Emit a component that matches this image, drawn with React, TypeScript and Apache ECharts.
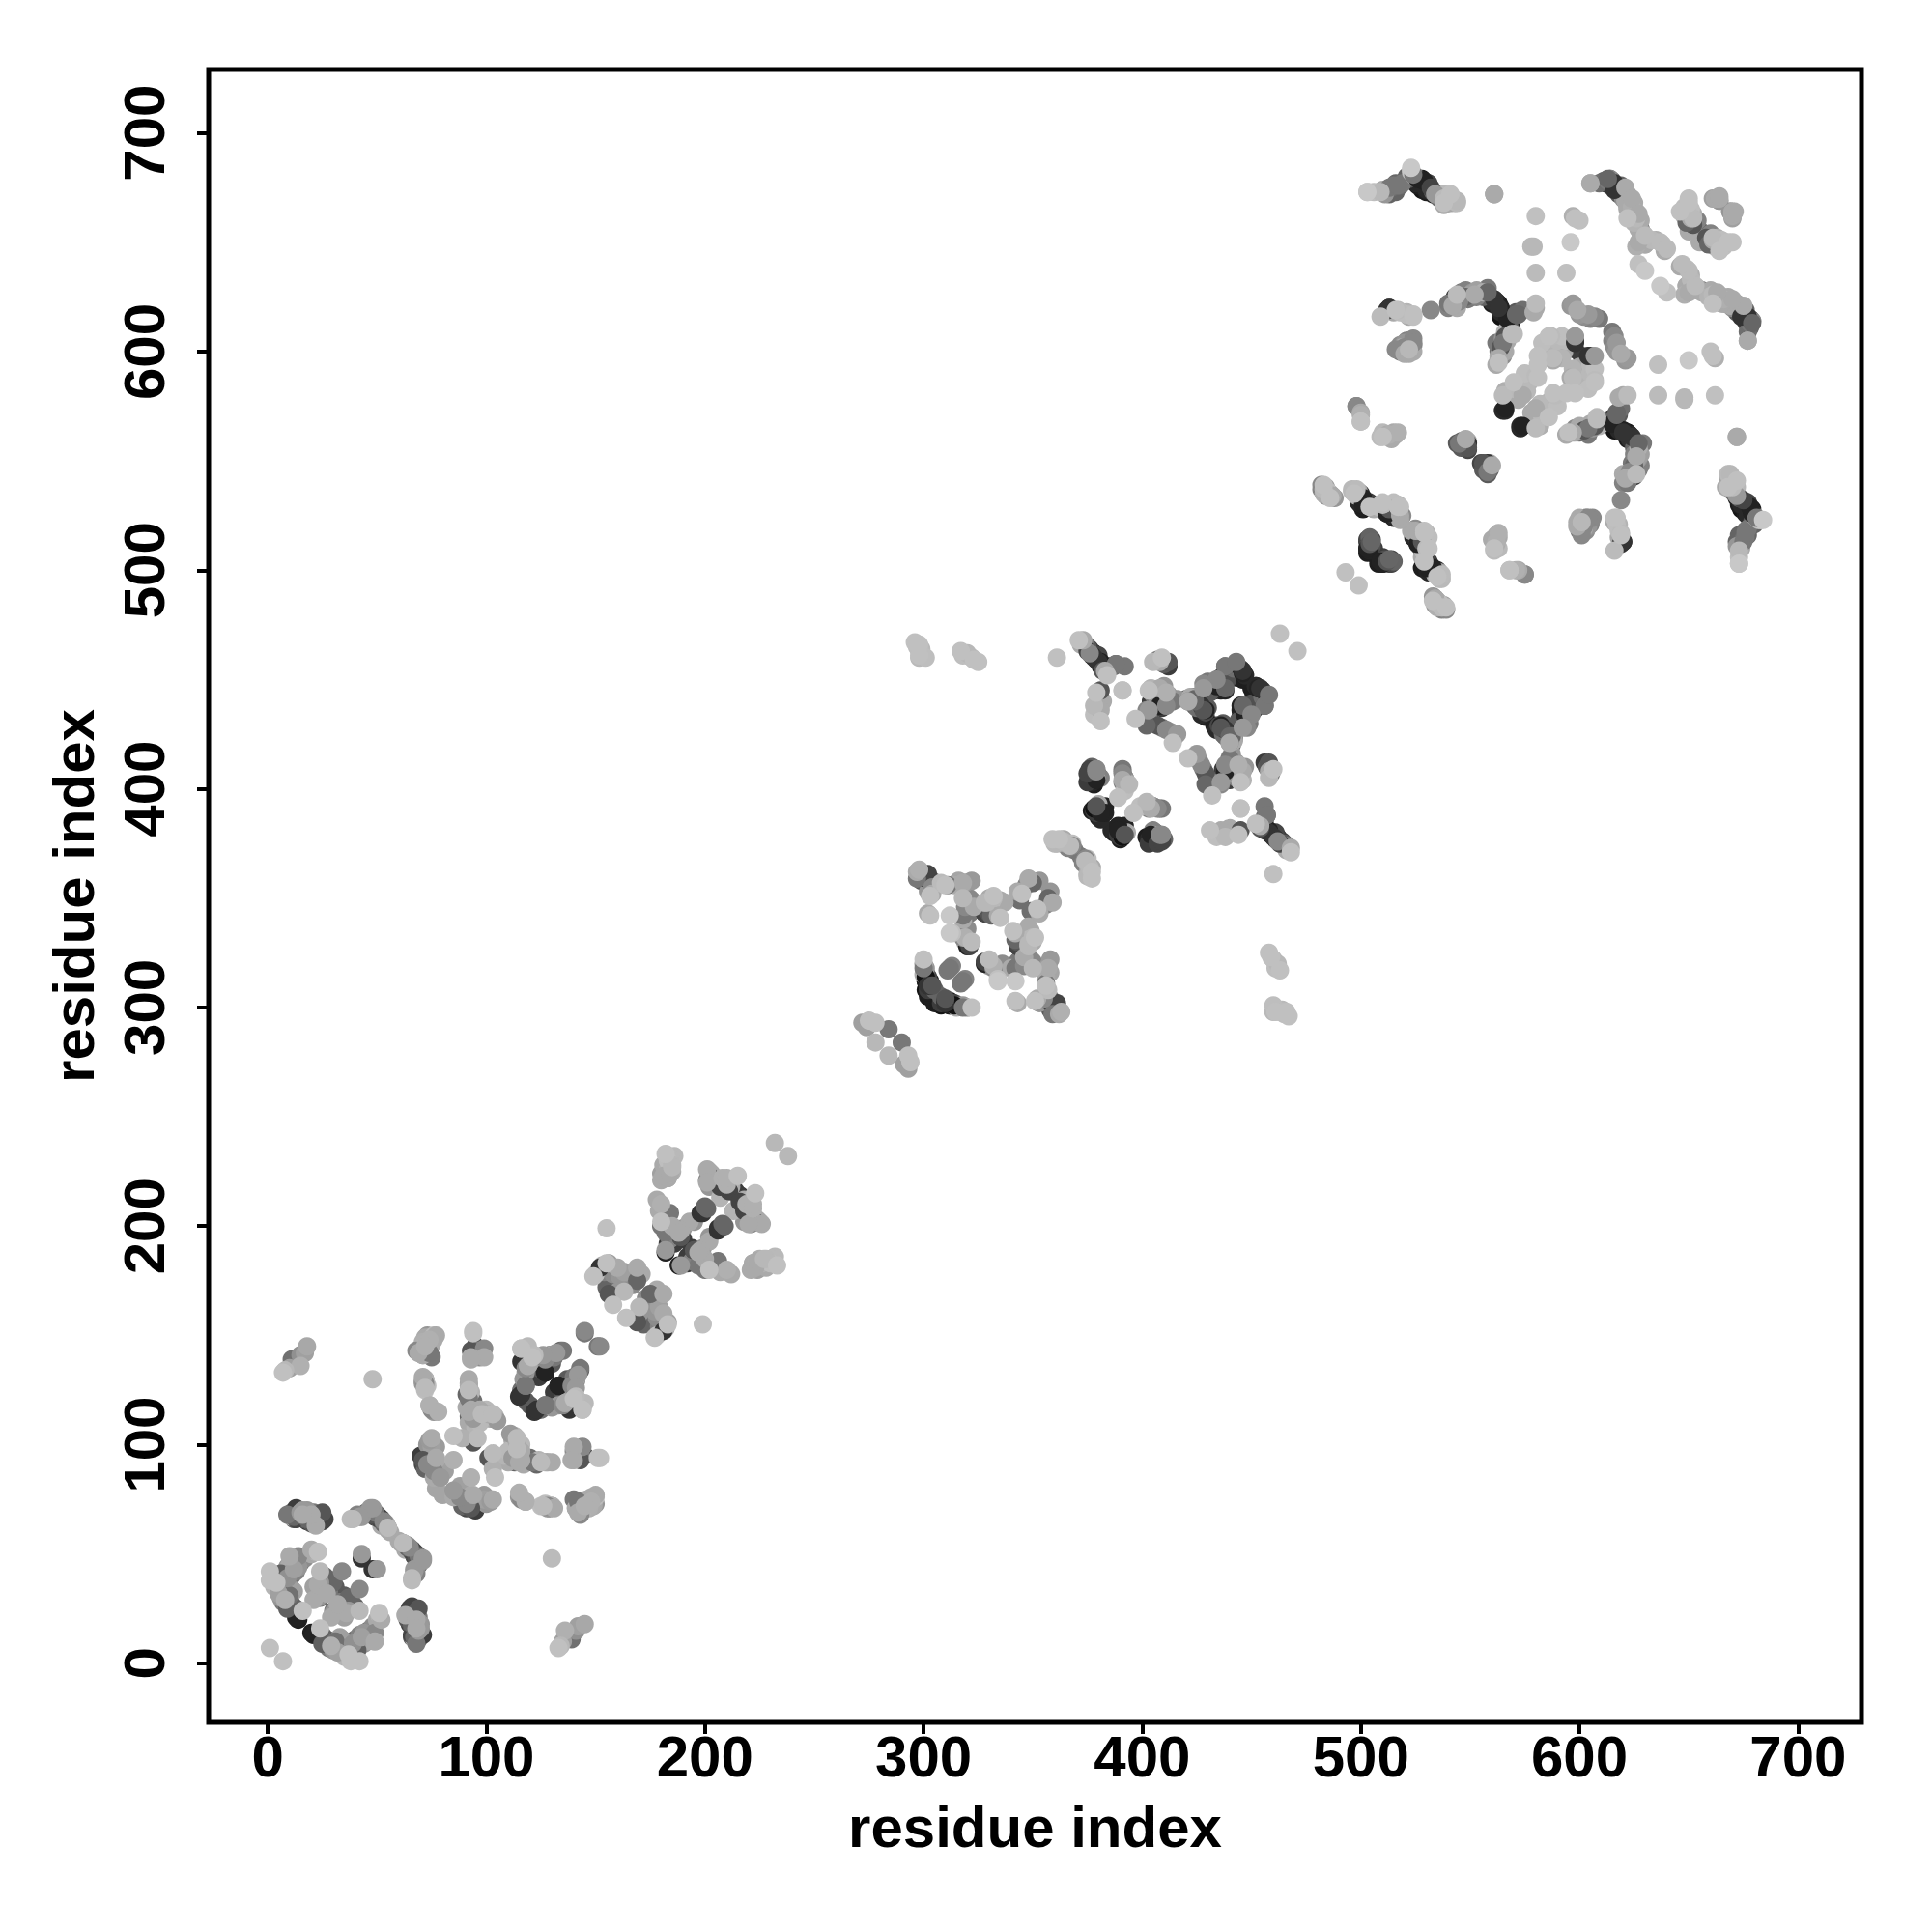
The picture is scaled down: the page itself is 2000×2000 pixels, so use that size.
import React, { useEffect, useRef } from "react";
import * as echarts from "echarts";

// Each entry: [residue i, residue j, grey level]. A contact map plots both (i,j) and (j,i).
// "under" arrays hold the dots mostly hidden beneath the ones that can be seen whole ("top" arrays).
const topA = [
  [1,7,192],[1,42,192],[1,38,192],[4,37,192],[6,41,96],[8,29,176],[9,39,144],[9,25,96],[5,32,160],[12,43,160],[10,31,112],
  [14,20,32],[16,24,192],[21,29,170],[23,36,170],[24,42,185],[26,38,85],[27,34,50],[29,38,102],[10,49,170],[14,49,136],[20,52,170],[23,51,192],
  [34,42,136],[37,30,102],[27,32,170],[24,37,153],[43,48,51],[43,50,153],[13,21,34],
  [9,68,119],[13,66,68],[15,69,153],[19,69,153],[20,64,85],[22,63,170],[26,66,68],
  [39,66,187],[43,67,153],[48,71,153],[48,68,85],[51,66,68],[53,65,136],[55,62,187],
  [61,55,170],[64,53,102],[67,51,68],[69,49,119],[71,47,153],[67,42,153],[66,38,187],
  [69,25,85],[67,22,51],[66,18,102],[68,20,170],[70,16,153],[71,13,60],[67,12,102],[68,16,170],
  [7,133,192],[8,134,184],[10,135,160],[11,139,112],[14,138,68],[15,136,176],[17,142,160],[18,145,168],[15,141,144],[48,130,187],
];
const underA = [
  [11,67,170],[12,66,90],[14,68,120],[16,67,140],[17,66,100],[18,65,60],[21,66,70],[23,65,85],[24,66,80],[25,65,70],
  [41,68,130],[45,69,100],[46,69,130],[49,69,80],[49,67,70],[50,68,90],[52,66,80],[54,64,150],[52,63,170],
  [60,56,170],[62,55,130],[63,54,90],[65,52,80],[66,52,60],[67,50,90],[68,50,100],[70,48,150],[69,46,150],[68,44,140],
  [67,24,85],[67,21,60],[69,21,120],[68,18,130],[70,18,150],[69,14,90],[68,13,70],[69,11,110],
  [10,45,170],[14,44,150],[7,38,120],[8,35,130],[11,34,150],[12,33,160],[11,27,90],[13,25,100],[24,30,110],[25,39,130],[26,40,100],[30,38,120],[31,35,90],[28,36,70],[5,35,160],[3,40,180],
  [36,26,170],[33,28,120],[30,23,150],[37,25,150],[35,21,160],[44,9,150],[45,11,130],[46,15,110],[47,14,120],[48,17,140],[50,20,170],[51,22,180],
  [2,40,190],[4,38,185],[3,35,180],[5,33,170],[6,30,150],[7,28,120],[8,33,110],[10,35,100],[11,40,110],[13,42,130],
];
const topB = [
  [69,142,170],[68,143,136],[74,142,119],[74,148,176],[77,150,170],[72,145,176],
  [94,151,192],[93,143,85],[93,140,170],[99,144,136],[99,140,170],
  [71,131,170],[72,126,187],[72,128,136],[92,130,170],[92,125,187],[91,123,102],
  [74,118,176],[75,116,136],[78,115,176],[93,116,170],[94,112,153],[98,114,187],[101,114,170],[105,111,153],[97,116,170],[103,114,187],
  [116,144,192],[119,136,170],[121,140,192],[127,139,136],[127,133,34],[118,127,119],[115,122,51],[123,116,51],[127,118,102],[133,127,34],
  [132,142,153],[135,143,119],[140,131,119],[143,134,102],[141,126,153],[144,116,187],[141,122,187],[135,118,136],[138,116,51],[145,151,119],[152,145,136],
  [75,103,170],[85,104,192],[89,103,176],[96,103,187],[94,101,85],[77,94,170],[71,93,85],[73,91,136],[85,93,176],[79,85,153],
  [92,115,170],[92,121,119],[93,139,170],[94,152,192],[74,102,153],[75,92,102],[76,88,136],[72,92,85],
];
const underB = [
  [74,143,102],[69,143,192],[76,150,187],[72,149,170],[71,146,176],
  [70,144,180],[71,147,175],[72,143,120],[75,146,170],[76,148,170],[71,141,150],[73,150,150],
  [95,145,70],[96,143,120],[94,140,130],[97,140,140],[98,142,150],
  [71,129,140],[72,130,140],[73,127,190],[92,128,150],[93,124,180],[92,122,120],[94,120,110],
  [91,117,170],[93,114,150],[95,113,170],[96,115,185],[99,112,175],[102,112,165],[104,113,180],[100,116,185],
  [72,89,100],[71,91,70],[70,95,60],[74,95,130],[73,100,150],[75,99,160],[76,85,170],[77,80,165],[81,88,160],[87,78,120],[88,77,100],[90,75,90],[91,76,110],[93,77,170],[97,75,150],[99,77,155],[102,75,160],
  [118,92,120],[110,92,170],[112,93,120],[113,92,100],[116,92,150],[119,92,160],[123,92,180],[127,92,170],[110,97,185],[108,95,180],[113,96,180],
  [118,74,170],[115,76,150],[125,72,190],[128,71,150],[130,72,180],[140,75,120],[145,73,160],[147,72,170],[149,74,170],[143,70,120],[141,71,170],
  [119,145,185],[122,138,160],[124,135,80],[125,135,50],[117,130,150],[116,124,100],[120,118,90],[125,116,110],[131,124,60],[133,125,40],[137,130,90],[139,125,130],[140,120,170],[137,118,100],[133,118,150],[130,141,170],[129,141,100],[118,141,160],
];
const topC = [
  [232,238,184],[155,199,192],[182,233,192],[181,223,170],[185,228,184],[184,224,170],
  [201,226,170],[201,220,170],[207,218,68],[210,219,176],[211,216,68],[215,223,192],[208,222,176],
  [210,218,68],[210,222,176],[206,220,51],[201,221,136],[202,223,68],
  [178,212,170],[180,210,176],[184,206,119],[201,208,102],[198,206,51],
  [180,200,119],[185,200,170],[189,198,170],[189,195,68],[200,209,102],[199,206,51],
  [182,189,153],[182,188,34],[195,189,85],[188,197,170],[182,197,119],[180,202,192],
  [185,227,184],
  [149,177,192],[155,183,192],[152,181,51],[160,181,170],[169,181,170],[169,175,102],[156,169,85],[163,170,184],[158,164,192],
];
const underC = [
  [183,230,190],[182,226,170],[183,222,160],[185,225,175],[186,232,185],[180,224,160],
  [203,224,170],[202,218,150],[205,220,70],[209,216,70],[212,221,180],[214,216,60],
  [213,207,180],[216,212,70],[218,212,170],[219,209,50],[221,204,60],[225,202,170],[221,203,140],
  [179,207,170],[181,204,140],[182,202,120],[183,198,150],[186,198,170],[184,194,130],[186,192,60],[183,192,60],[190,194,60],[190,199,150],[193,202,170],[195,202,150],
  [224,184,180],[226,183,180],[230,185,185],[228,181,170],[222,183,170],[221,180,170],
  [150,178,190],[152,178,90],[153,182,170],[154,179,130],[156,183,160],[158,178,140],[161,177,150],[163,179,160],[155,172,100],[157,171,90],[158,168,170],[160,170,150],[167,173,140],[171,178,170],
];
const topD = [
  [272,293,160],[275,294,192],[278,293,192],[278,284,184],[284,290,120],[274,291,160],
  [297,362,170],[297,359,119],[299,361,51],[302,361,68],[304,355,136],[303,351,192],[308,357,187],[311,356,119],[318,357,170],[322,358,153],
  [319,346,136],[322,349,136],[318,342,119],[323,346,170],[328,348,184],[332,351,192],[328,343,68],[335,341,192],[330,343,85],
  [303,342,192],[312,342,200],[312,334,200],[318,332,136],[322,330,187],[320,328,34],
  [300,322,192],[300,318,119],[302,310,51],[304,310,85],[312,318,119],[303,310,34],[301,314,17],
  [321,328,68],[319,332,176],[313,334,192],[334,342,170],[331,342,102],[332,350,184],[329,348,184],[321,350,136],[320,344,119],[318,350,184],[319,357,153],
  [310,356,192],[302,343,170],[304,352,170],[304,356,68],[301,359,51],[298,363,176],
  [343,353,170],[350,357,102],[348,359,170],[345,352,192],
  [296,467,192],[298,466,192],[298,461,192],[317,463,192],[320,462,184],[323,459,192],[325,458,192],
];
const underD = [
  [300,360,60],[300,361,80],[301,357,50],[302,358,60],[303,356,70],[299,358,90],[302,353,150],[304,358,120],[306,356,140],[314,356,170],[316,358,165],[320,357,155],[320,347,140],[321,343,120],[322,344,100],[325,346,90],[329,345,70],[327,344,50],
  [318,340,170],[320,336,140],[319,330,160],[321,329,60],
  [300,320,170],[301,316,100],[302,314,70],[301,312,30],[303,312,30],[302,308,60],[303,308,30],[305,308,100],[306,303,30],[305,302,30],[307,302,30],[308,301,20],[310,302,20],[312,301,20],[315,300,170],[318,301,150],[320,300,170],[311,317,120],[313,319,130],
  [331,348,185],[335,349,170],[330,350,170],[337,348,170],[344,349,110],[347,356,130],[349,358,170],[353,358,150],
  [297,465,190],[299,464,185],[301,460,190],[318,461,190],[322,460,185],[298,463,190],[298,460,185],
];
const topE = [
  [361,460,192],[463,471,192],[373,468,170],[371,468,192],[375,463,68],[377,461,34],[380,458,51],[383,454,170],[388,457,102],[392,456,119],
  [381,445,85],[391,445,192],[379,444,192],[381,436,170],[378,438,184],[381,431,192],
  [403,445,192],[408,458,170],[412,458,85],[405,458,184],[409,460,192],[408,446,170],[411,444,176],[408,438,34],[414,440,119],[411,438,136],
  [402,436,136],[397,432,192],[402,429,102],[407,429,85],[411,427,136],[416,425,153],[414,421,192],
  [421,440,136],[428,446,153],[428,436,85],[427,438,51],[424,440,102],[438,446,102],[434,449,34],[434,447,34],[438,456,119],[446,454,51],[443,457,34],
  [453,446,34],[458,443,119],[456,438,85],[445,438,34],[450,434,136],[448,428,136],[441,424,102],[436,429,34],[440,421,170],
  [379,408,136],[375,407,68],[379,404,34],[391,407,136],[394,402,184],[389,396,192],[391,408,119],[391,404,170],
  [383,389,34],[378,391,17],[381,389,34],[379,392,85],[379,409,136],[376,409,68],
  [368,374,136],[362,377,192],[364,376,187],[359,377,192],[367,374,187],[360,375,184],[445,391,192],[388,457,119],[384,452,192],[382,454,85],[381,458,34],[378,460,51],[376,462,136],[403,436,153],
];
const underE = [
  [374,466,120],[375,465,90],[376,464,60],[378,462,30],[379,459,40],[380,461,70],[381,456,30],[381,457,60],[382,455,50],[385,456,80],[387,456,110],[372,466,170],
  [380,441,150],[382,440,170],[378,434,190],
  [376,405,60],[377,406,30],[378,407,30],[377,403,40],[378,402,30],[380,406,100],[381,405,130],[375,403,60],[380,391,20],[382,390,25],[383,392,35],[377,390,30],[386,381,40],[387,380,30],[389,379,60],[390,378,60],[380,388,30],[388,380,30],[391,378,90],[393,380,170],
  [405,378,60],[405,379,170],[406,380,100],[407,377,70],[409,379,130],[410,377,100],
  [392,405,140],[393,403,175],[392,400,170],[403,391,130],[405,392,130],[409,391,120],[399,392,190],
  [405,440,50],[407,441,150],[409,437,60],[404,440,60],[405,443,130],[409,444,170],[412,443,150],[416,441,150],[420,441,100],[423,442,120],[425,439,60],[429,435,70],[430,437,90],[431,444,90],
  [403,432,120],[405,430,80],[409,428,120],[413,426,150],[415,424,160],
  [433,445,40],[435,450,30],[436,451,50],[436,446,30],[437,448,60],[439,450,80],[440,455,40],[441,456,30],[443,453,30],[445,455,60],[447,452,40],[450,446,30],[451,443,30],[452,447,40],[454,445,90],[455,442,110],[445,436,30],[446,434,50],[448,436,70],[449,430,120],[433,429,30],[434,427,40],[437,425,110],[438,424,90],[440,424,150],[442,422,170],
  [407,459,120],[410,457,90],[412,456,60],[404,446,180],[408,441,130],[410,447,150],
  [360,376,190],[363,376,185],[365,375,170],[366,373,130],[369,372,120],[376,363,160],[375,361,175],[377,364,170],[375,368,190],
];
const topF = [
  [503,673,200],[509,673,184],[513,675,119],[517,676,119],[523,684,200],[524,681,119],[526,679,34],[529,678,34],[532,675,68],[534,672,153],[538,670,187],[541,672,192],[544,669,184],[538,668,192],[561,672,170],
  [513,620,51],[517,619,187],[524,617,192],[532,619,136],[540,622,119],[541,622,51],[545,623,136],[548,625,102],[552,626,170],[558,627,102],[561,624,51],[563,620,51],[567,615,34],[572,617,102],[580,622,187],[580,620,170],
  [520,602,136],[524,606,136],[516,601,136],[570,608,187],[566,607,85],[564,602,85],[563,597,170],[563,595,192],
  [580,662,192],[579,648,184],[580,636,187],[598,661,192],[596,650,200],[594,636,192],[597,622,153],[599,619,170],[607,616,136],[604,617,153],
  [605,677,170],[613,679,102],[616,677,51],[616,674,51],[621,675,170],[624,670,170],[627,663,170],[622,661,192],[630,653,187],[627,650,170],[637,650,187],[640,647,187],[627,640,192],[630,637,200],[639,646,170],
  [650,670,192],[652,661,187],[649,659,102],[646,664,192],[663,670,170],[664,671,170],[652,658,85],[651,661,170],[650,668,192],[649,666,187],
  [586,607,192],[581,594,192],[588,596,170],[580,589,187],[570,586,192],[565,580,187],[574,580,170],[566,574,34],
  [598,607,153],[598,604,51],[581,588,192],[581,598,192],[587,607,187],[588,597,187],[571,617,102],[579,618,170],
  [565,604,119],[569,608,187],[564,620,34],[578,648,184],[597,662,176],[600,660,192],
  [498,575,136],[500,572,170],[500,568,192],[510,561,192],[513,562,176],[517,563,176],[545,558,119],[549,558,51],[556,549,85],[560,548,170],[558,545,102],
  [544,623,51],[544,626,187],[542,621,170],
  [498,537,187],[501,533,34],[504,529,192],[510,530,187],[513,528,85],[518,529,192],[518,526,136],[525,518,170],[529,517,192],[531,510,192],[526,512,34],[530,501,34],[535,497,192],
  [504,512,85],[504,509,34],[513,505,102],[510,503,34],[493,499,192],[534,487,170],[539,483,192],[533,486,192],[539,482,136],[487,534,153],[483,537,187],
  [524,604,136],[522,601,184],[520,599,170],[524,616,192],[516,619,192],[512,619,51],[509,616,187],
  [562,516,170],[561,509,187],[562,512,170],[568,500,192],[571,500,176],[575,498,136],
];
const underF = [
  [506,673,190],[511,672,150],[514,675,110],[515,676,120],[518,676,100],[521,680,100],[522,679,90],[523,682,130],[525,680,30],[527,678,20],[528,679,30],[530,676,30],[531,677,70],[533,673,90],[535,672,110],[536,671,140],[539,669,170],[540,670,185],[542,670,170],[543,668,170],
  [514,619,120],[515,618,170],[521,618,180],[522,616,170],[543,622,110],[544,620,170],[546,624,90],[549,624,120],[550,626,160],[553,625,130],[555,626,80],[556,625,100],[557,628,100],[559,625,30],[560,622,30],[562,621,30],[564,618,40],[565,616,20],[566,617,30],[568,614,30],[569,616,70],[571,618,90],[574,619,110],
  [562,604,120],[563,600,110],[564,603,60],[565,598,140],[567,605,170],[566,600,170],[567,608,150],
  [596,621,150],[600,617,150],[602,616,140],[605,615,130],[609,615,120],[598,605,80],[598,601,60],
  [609,677,110],[611,678,100],[612,677,60],[614,676,60],[615,678,70],[617,675,30],[618,673,40],[619,676,100],[620,673,150],[622,672,160],[623,668,160],[625,668,170],[626,664,170],[628,660,170],[625,660,170],[628,656,120],[629,654,170],[630,649,170],[633,651,185],[635,651,175],[638,649,190],
  [625,662,170],[626,660,150],[624,662,170],[623,664,170],[622,666,150],[621,669,130],[620,671,110],[618,672,90],[617,674,70],[615,678,50],[614,679,80],
  [648,662,170],[651,665,190],[652,663,175],[654,660,130],[654,657,100],[656,652,130],[655,650,170],[662,670,170],[664,669,150],[670,664,170],[670,661,160],[669,664,150],[660,650,170],[664,650,180],[666,648,190],[657,650,170],
  [582,597,180],[585,600,180],[583,604,190],[590,597,175],[592,597,180],[593,600,170],[590,605,185],[592,607,190],[594,605,185],
  [566,582,175],[568,579,170],[567,577,170],[570,583,185],[572,578,170],[576,582,185],[575,590,190],[577,586,180],[565,573,40],[566,573,40],
  [562,594,170],[563,598,165],[564,600,130],[565,602,110],[566,605,120],[565,606,150],[566,609,180],[567,610,170],[568,611,100],[568,612,60],[569,614,30],[570,617,30],[565,618,30],[564,616,20],[563,622,20],[562,623,40],[560,623,50],[559,625,60],[558,629,120],[556,627,175],[553,628,160],[551,627,150],[548,628,130],[546,627,120],[545,626,100],[543,625,60],[542,623,60],[540,620,130],
  [499,536,170],[500,535,50],[502,532,30],[503,531,30],[504,531,60],[505,530,70],[506,528,170],[508,529,190],[510,528,50],[511,527,40],[512,526,100],[514,527,90],[515,528,150],[516,526,120],[519,525,140],[523,518,170],[524,515,40],[525,514,30],[526,514,40],[527,512,30],[528,513,80],[530,517,180],[531,515,190],[529,503,30],[528,501,30],[530,500,30],[531,499,40],[533,500,80],[534,498,175],[536,496,185],[537,496,185],
  [503,513,60],[505,514,70],[506,510,60],[503,510,30],[505,508,30],[511,505,80],[512,504,90],[514,503,70],[508,503,30],[515,504,100],
  [484,536,185],[485,536,190],[486,535,175],[488,533,150],
  [535,483,175],[534,484,150],[536,485,170],[538,484,160],[537,482,130],
  [544,558,90],[546,558,70],[547,557,50],[548,559,100],[555,549,70],[557,547,70],[559,549,170],[559,546,100],[556,546,90],
  [510,563,185],[512,562,175],[515,563,170],[514,560,170],
  [520,604,150],[518,601,170],[521,605,130],[523,603,150],[524,600,170],[522,605,100],[518,603,140],
  [600,523,170],[599,522,170],[601,517,150],[600,518,120],[603,524,120],[605,523,150],[602,519,170],[617,521,190],[618,518,190],[619,514,40],[620,513,60],
  [673,530,30],[672,533,30],[674,530,40],[674,528,20],[675,529,30],[677,527,30],[677,525,40],[676,526,30],[680,524,60],[681,524,190],[682,523,190],[670,540,175],[669,542,175],[668,541,150],[669,538,120],[670,536,110],[671,535,70],[672,538,185],[675,514,100],[674,510,170],[676,518,110],[677,519,120],[672,513,100],[673,516,100],[680,525,170],[673,503,192],[672,561,153],[683,523,200],[677,516,102],[668,544,187],[667,538,170],
  [669,621,170],[670,620,140],[672,620,110],[673,619,70],[675,616,40],[676,616,50],[677,615,80],[678,613,120],[666,624,175],[665,622,170],[661,626,185],[659,625,180],[656,627,170],[654,628,150],[677,605,170],[679,614,136],
  [649,630,170],[648,626,175],
];

const tickValues = [0, 100, 200, 300, 400, 500, 600, 700];
const axisTitle = "residue index";
const FONT = "Liberation Sans";
const underLayer = [...underA, ...underB, ...underC, ...underD, ...underE, ...underF];
const topLayer = [...topA, ...topB, ...topC, ...topD, ...topE, ...topF];

function axis(nameGap: number, labelMargin: number, rotate: number) {
  return {
    type: "value",
    min: -27,
    max: 729,
    name: axisTitle,
    nameLocation: "middle",
    nameGap,
    nameMoveOverlap: false,
    nameTextStyle: { fontFamily: FONT, fontWeight: "bold", fontSize: 60, color: "#000" },
    axisLine: { show: false, onZero: false },
    axisTick: { show: true, length: 12, customValues: tickValues, lineStyle: { color: "#000", width: 4 } },
    axisLabel: { show: true, rotate, margin: labelMargin, customValues: tickValues, fontFamily: FONT, fontWeight: "bold", fontSize: 60, color: "#000" },
    splitLine: { show: false },
  };
}

function mirrored(list: number[][]) {
  const pts: number[][] = [];
  for (const [i, j, s] of list) {
    pts.push([i, j, s]);
    pts.push([j, i, s]);
  }
  return pts.sort((a, b) => a[2] - b[2]);
}

export default function App() {
  const ref = useRef<HTMLDivElement>(null);
  useEffect(() => {
    const chart = echarts.init(ref.current!, null, { renderer: "svg" });
    const pts = [...mirrored(underLayer), ...mirrored(topLayer)];
    chart.setOption({
      animation: false,
      backgroundColor: "#fff",
      grid: { show: true, left: 216, right: 73, top: 72, bottom: 217, borderColor: "#000", borderWidth: 5, backgroundColor: "transparent" },
      xAxis: axis(78, 5, 0),
      yAxis: axis(110, 37, 90),
      series: [
        {
          type: "scatter",
          symbol: "circle",
          symbolSize: 19,
          data: pts,
          itemStyle: {
            opacity: 1,
            color: (p: any) => {
              const g = p.value[2];
              return `rgb(${g},${g},${g})`;
            },
          },
        },
      ],
    });
    return () => chart.dispose();
  }, []);
  return <div ref={ref} style={{ position: "absolute", left: 0, top: 0, width: 2000, height: 2000 }} />;
}
